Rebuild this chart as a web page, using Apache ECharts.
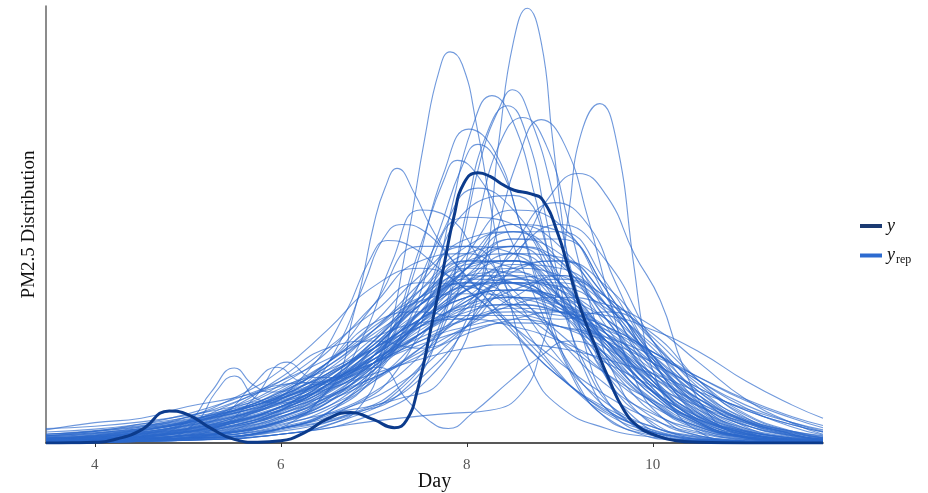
<!DOCTYPE html>
<html>
<head>
<meta charset="utf-8">
<script src="https://cdn.jsdelivr.net/npm/echarts@6/dist/echarts.min.js"></script>
<style>
  html, body { margin: 0; padding: 0; background: #fff; }
  #chart { width: 928px; height: 493px; }
</style>
</head>
<body>
<div id="chart"></div>
<script>
// tick labels on the Day axis
const dayTicks = [4, 6, 8, 10]

// observed density (y)
const obsDays = [3.475, 3.75, 4.0, 4.25, 4.5, 4.8, 5.0, 5.25, 5.5, 5.75, 6.0, 6.25, 6.5, 6.75, 7.0, 7.22, 7.35, 7.47, 7.61, 7.75, 7.86, 7.97, 8.12, 8.25, 8.37, 8.51, 8.69, 8.82, 8.98, 9.09, 9.23, 9.37, 9.52, 9.69, 9.85, 10.0, 10.25, 10.5, 11.0, 11.83]
const obsDensity = [0, 0.0003, 0.001, 0.006, 0.018, 0.044, 0.039, 0.02, 0.005, 0.001, 0.003, 0.014, 0.033, 0.042, 0.032, 0.021, 0.031, 0.073, 0.155, 0.241, 0.31, 0.357, 0.371, 0.366, 0.356, 0.347, 0.342, 0.333, 0.287, 0.241, 0.182, 0.137, 0.09, 0.045, 0.022, 0.012, 0.003, 0.001, 0, 0]

// replicated densities (y_rep) sampled on a common grid
const repDays = [3.475, 4, 4.5, 5, 5.5, 6, 6.5, 7, 7.5, 8, 8.5, 9, 9.5, 10, 10.5, 11, 11.5, 11.83]
const repCurves = [
  [0.004, 0.006, 0.011, 0.02, 0.034, 0.055, 0.09, 0.14, 0.2, 0.25, 0.26, 0.22, 0.15, 0.08, 0.035, 0.013, 0.005, 0.002],
  [0.002, 0.004, 0.008, 0.015, 0.028, 0.05, 0.085, 0.14, 0.21, 0.27, 0.29, 0.25, 0.16, 0.075, 0.028, 0.009, 0.003, 0.001],
  [0.01, 0.014, 0.02, 0.03, 0.044, 0.065, 0.095, 0.13, 0.17, 0.2, 0.21, 0.19, 0.15, 0.1, 0.06, 0.032, 0.016, 0.009],
  [0.001, 0.002, 0.005, 0.011, 0.022, 0.042, 0.075, 0.12, 0.18, 0.24, 0.28, 0.26, 0.19, 0.1, 0.04, 0.013, 0.004, 0.001],
  [0.006, 0.01, 0.017, 0.028, 0.045, 0.07, 0.105, 0.15, 0.19, 0.22, 0.22, 0.19, 0.14, 0.085, 0.045, 0.02, 0.008, 0.004],
  [0.003, 0.005, 0.009, 0.016, 0.027, 0.044, 0.07, 0.11, 0.17, 0.24, 0.3, 0.29, 0.21, 0.11, 0.04, 0.012, 0.003, 0.001],
  [0.012, 0.017, 0.024, 0.033, 0.045, 0.062, 0.085, 0.115, 0.15, 0.18, 0.19, 0.18, 0.15, 0.11, 0.075, 0.045, 0.025, 0.015],
  [0.002, 0.003, 0.006, 0.012, 0.024, 0.045, 0.08, 0.125, 0.18, 0.22, 0.24, 0.23, 0.19, 0.13, 0.07, 0.03, 0.011, 0.005],
  [0.005, 0.008, 0.014, 0.025, 0.042, 0.068, 0.11, 0.165, 0.23, 0.27, 0.26, 0.2, 0.12, 0.06, 0.024, 0.008, 0.003, 0.001],
  [0.001, 0.002, 0.004, 0.008, 0.017, 0.034, 0.064, 0.11, 0.17, 0.24, 0.29, 0.29, 0.22, 0.12, 0.048, 0.015, 0.004, 0.001],
  [0.015, 0.019, 0.026, 0.035, 0.047, 0.064, 0.085, 0.11, 0.14, 0.16, 0.17, 0.16, 0.14, 0.11, 0.075, 0.045, 0.025, 0.015],
  [0.003, 0.005, 0.01, 0.019, 0.034, 0.056, 0.09, 0.14, 0.2, 0.24, 0.23, 0.18, 0.11, 0.055, 0.022, 0.008, 0.003, 0.001],
  [0.004, 0.006, 0.011, 0.019, 0.031, 0.048, 0.072, 0.105, 0.15, 0.19, 0.22, 0.22, 0.18, 0.12, 0.065, 0.028, 0.01, 0.004],
  [0.002, 0.003, 0.006, 0.011, 0.02, 0.036, 0.062, 0.105, 0.165, 0.23, 0.27, 0.25, 0.17, 0.085, 0.032, 0.01, 0.003, 0.001],
  [0.008, 0.011, 0.018, 0.028, 0.043, 0.065, 0.095, 0.13, 0.17, 0.2, 0.21, 0.195, 0.155, 0.105, 0.06, 0.03, 0.013, 0.007],
  [0.001, 0.002, 0.004, 0.007, 0.014, 0.028, 0.055, 0.1, 0.17, 0.26, 0.32, 0.3, 0.2, 0.09, 0.028, 0.007, 0.002, 0],
  [0.006, 0.009, 0.015, 0.026, 0.044, 0.072, 0.11, 0.16, 0.2, 0.22, 0.2, 0.15, 0.095, 0.05, 0.022, 0.009, 0.003, 0.001],
  [0.003, 0.005, 0.008, 0.014, 0.023, 0.037, 0.058, 0.088, 0.13, 0.175, 0.21, 0.225, 0.2, 0.14, 0.075, 0.032, 0.012, 0.005],
  [0.01, 0.013, 0.019, 0.028, 0.041, 0.058, 0.083, 0.12, 0.165, 0.21, 0.23, 0.21, 0.15, 0.085, 0.038, 0.014, 0.005, 0.002],
  [0.002, 0.004, 0.008, 0.015, 0.028, 0.05, 0.085, 0.135, 0.195, 0.245, 0.25, 0.21, 0.14, 0.07, 0.028, 0.009, 0.003, 0.001],
  [0.005, 0.008, 0.013, 0.022, 0.036, 0.056, 0.085, 0.125, 0.165, 0.2, 0.21, 0.2, 0.17, 0.12, 0.07, 0.034, 0.014, 0.006],
  [0.001, 0.002, 0.003, 0.006, 0.012, 0.024, 0.046, 0.085, 0.145, 0.22, 0.28, 0.28, 0.21, 0.11, 0.042, 0.013, 0.004, 0.001],
  [0.007, 0.01, 0.017, 0.028, 0.045, 0.07, 0.105, 0.155, 0.21, 0.25, 0.24, 0.19, 0.12, 0.058, 0.022, 0.007, 0.002, 0.001],
  [0.004, 0.006, 0.01, 0.018, 0.03, 0.049, 0.078, 0.12, 0.17, 0.21, 0.225, 0.21, 0.17, 0.115, 0.065, 0.03, 0.012, 0.005],
  [0.02, 0.023, 0.029, 0.038, 0.05, 0.066, 0.087, 0.11, 0.135, 0.155, 0.165, 0.16, 0.145, 0.12, 0.09, 0.06, 0.036, 0.024],
  [0.002, 0.003, 0.006, 0.011, 0.021, 0.04, 0.072, 0.12, 0.18, 0.23, 0.25, 0.22, 0.15, 0.075, 0.028, 0.008, 0.002, 0.001],
  [0.003, 0.005, 0.009, 0.017, 0.03, 0.05, 0.08, 0.12, 0.16, 0.185, 0.19, 0.18, 0.16, 0.125, 0.085, 0.048, 0.022, 0.011],
  [0.006, 0.009, 0.014, 0.024, 0.04, 0.064, 0.1, 0.155, 0.22, 0.28, 0.29, 0.23, 0.13, 0.055, 0.018, 0.005, 0.001, 0],
  [0.001, 0.002, 0.005, 0.01, 0.019, 0.036, 0.063, 0.1, 0.15, 0.2, 0.24, 0.25, 0.2, 0.12, 0.05, 0.016, 0.004, 0.001],
  [0.009, 0.012, 0.018, 0.027, 0.041, 0.06, 0.086, 0.12, 0.16, 0.19, 0.2, 0.185, 0.145, 0.095, 0.052, 0.024, 0.01, 0.005],
  [0.003, 0.005, 0.009, 0.016, 0.029, 0.05, 0.085, 0.135, 0.19, 0.225, 0.22, 0.18, 0.12, 0.07, 0.036, 0.016, 0.007, 0.003],
  [0.002, 0.004, 0.007, 0.013, 0.023, 0.04, 0.068, 0.11, 0.16, 0.21, 0.245, 0.24, 0.19, 0.115, 0.052, 0.018, 0.005, 0.002],
  [0.005, 0.008, 0.013, 0.023, 0.038, 0.06, 0.092, 0.135, 0.18, 0.215, 0.22, 0.19, 0.135, 0.08, 0.04, 0.017, 0.006, 0.003],
  [0.001, 0.002, 0.004, 0.008, 0.016, 0.032, 0.06, 0.105, 0.17, 0.24, 0.27, 0.245, 0.17, 0.09, 0.036, 0.011, 0.003, 0.001],
  [0.012, 0.016, 0.022, 0.031, 0.044, 0.061, 0.083, 0.11, 0.14, 0.17, 0.185, 0.18, 0.16, 0.125, 0.085, 0.052, 0.028, 0.016],
  [0.01, 0.014, 0.02, 0.029, 0.041, 0.056, 0.074, 0.095, 0.115, 0.13, 0.135, 0.13, 0.115, 0.095, 0.07, 0.047, 0.028, 0.018],
  [0.018, 0.028, 0.034, 0.05, 0.062, 0.078, 0.1, 0.13, 0.16, 0.175, 0.175, 0.16, 0.13, 0.09, 0.055, 0.03, 0.016, 0.01],
  [0.004, 0.007, 0.012, 0.02, 0.032, 0.05, 0.075, 0.11, 0.15, 0.185, 0.2, 0.19, 0.16, 0.11, 0.06, 0.025, 0.009, 0.004],
  [0.002, 0.003, 0.006, 0.012, 0.024, 0.046, 0.08, 0.13, 0.19, 0.23, 0.235, 0.2, 0.14, 0.08, 0.036, 0.013, 0.004, 0.002],
  [0.007, 0.01, 0.015, 0.024, 0.036, 0.053, 0.077, 0.11, 0.15, 0.195, 0.225, 0.23, 0.2, 0.145, 0.085, 0.04, 0.016, 0.007],
  [0.005, 0.008, 0.013, 0.02, 0.03, 0.045, 0.065, 0.09, 0.12, 0.15, 0.17, 0.18, 0.175, 0.155, 0.125, 0.085, 0.052, 0.034],
  [0.004, 0.008, 0.016, 0.03, 0.05, 0.08, 0.125, 0.19, 0.25, 0.26, 0.21, 0.14, 0.08, 0.04, 0.018, 0.007, 0.003, 0.001],
  [0.008, 0.013, 0.022, 0.036, 0.056, 0.085, 0.13, 0.18, 0.22, 0.215, 0.185, 0.14, 0.095, 0.058, 0.032, 0.016, 0.007, 0.004],
  [0.002, 0.004, 0.009, 0.018, 0.035, 0.065, 0.11, 0.165, 0.18, 0.17, 0.2, 0.23, 0.19, 0.11, 0.045, 0.014, 0.004, 0.001],
  [0.001, 0.002, 0.004, 0.008, 0.015, 0.028, 0.05, 0.085, 0.13, 0.185, 0.235, 0.25, 0.215, 0.14, 0.065, 0.022, 0.006, 0.002],
  [0.001, 0.002, 0.003, 0.007, 0.015, 0.03, 0.06, 0.12, 0.22, 0.31, 0.3, 0.2, 0.095, 0.035, 0.01, 0.003, 0.001, 0],
  [0.006, 0.01, 0.018, 0.03, 0.048, 0.075, 0.11, 0.155, 0.195, 0.205, 0.2, 0.18, 0.14, 0.09, 0.05, 0.024, 0.01, 0.005],
  [0.002, 0.004, 0.008, 0.014, 0.025, 0.045, 0.08, 0.13, 0.19, 0.22, 0.19, 0.17, 0.18, 0.15, 0.085, 0.035, 0.012, 0.004],
  [0.003, 0.005, 0.009, 0.016, 0.028, 0.046, 0.074, 0.115, 0.165, 0.22, 0.26, 0.255, 0.2, 0.12, 0.055, 0.02, 0.006, 0.002],
  [0.006, 0.011, 0.02, 0.036, 0.062, 0.1, 0.155, 0.215, 0.24, 0.21, 0.15, 0.09, 0.048, 0.022, 0.009, 0.003, 0.001, 0],
  [0.012, 0.016, 0.023, 0.032, 0.045, 0.062, 0.085, 0.115, 0.145, 0.17, 0.18, 0.175, 0.155, 0.125, 0.09, 0.058, 0.034, 0.021],
  [0.003, 0.006, 0.012, 0.025, 0.05, 0.09, 0.13, 0.14, 0.13, 0.16, 0.21, 0.2, 0.14, 0.07, 0.026, 0.008, 0.002, 0.001],
  [0.001, 0.002, 0.004, 0.008, 0.016, 0.03, 0.056, 0.1, 0.17, 0.25, 0.3, 0.27, 0.18, 0.085, 0.03, 0.008, 0.002, 0],
  [0.003, 0.005, 0.009, 0.015, 0.025, 0.04, 0.062, 0.09, 0.125, 0.16, 0.19, 0.2, 0.19, 0.16, 0.11, 0.06, 0.027, 0.012],
  [0.002, 0.004, 0.008, 0.016, 0.032, 0.06, 0.11, 0.19, 0.27, 0.27, 0.2, 0.115, 0.055, 0.022, 0.008, 0.002, 0.001, 0],
  [0.004, 0.007, 0.012, 0.021, 0.036, 0.06, 0.095, 0.145, 0.2, 0.23, 0.22, 0.185, 0.14, 0.095, 0.055, 0.027, 0.011, 0.005],
  [0.006, 0.009, 0.015, 0.024, 0.037, 0.055, 0.08, 0.115, 0.155, 0.195, 0.22, 0.215, 0.185, 0.135, 0.08, 0.038, 0.015, 0.007],
  [0, 0.001, 0.002, 0.004, 0.009, 0.02, 0.042, 0.09, 0.19, 0.32, 0.34, 0.22, 0.09, 0.028, 0.007, 0.002, 0, 0],
  [0.01, 0.016, 0.026, 0.04, 0.06, 0.085, 0.115, 0.145, 0.165, 0.17, 0.16, 0.14, 0.11, 0.078, 0.05, 0.028, 0.014, 0.008],
  [0.001, 0.001, 0.003, 0.006, 0.012, 0.022, 0.04, 0.07, 0.12, 0.19, 0.26, 0.3, 0.25, 0.14, 0.055, 0.016, 0.004, 0.001],
  [0.003, 0.006, 0.012, 0.028, 0.055, 0.08, 0.085, 0.11, 0.18, 0.25, 0.25, 0.19, 0.115, 0.055, 0.02, 0.006, 0.002, 0]
]

// replicated densities with sharper peaks or bumps, as [day, density] pairs
const peakCurves = [
  [[3.475, 0.002], [4.5, 0.004], [5.5, 0.014], [6.5, 0.04], [7.25, 0.06], [7.75, 0.09], [8.15, 0.22], [8.35, 0.42], [8.5, 0.55], [8.65, 0.597], [8.8, 0.55], [8.92, 0.42], [9.1, 0.24], [9.3, 0.12], [9.5, 0.06], [9.75, 0.028], [10, 0.012], [10.5, 0.003], [11, 0.001], [11.83, 0]],
  [[3.475, 0.001], [5, 0.004], [6, 0.012], [6.5, 0.025], [6.85, 0.05], [7.1, 0.12], [7.35, 0.27], [7.55, 0.42], [7.7, 0.51], [7.82, 0.537], [7.95, 0.52], [8.1, 0.44], [8.25, 0.33], [8.45, 0.2], [8.7, 0.1], [9, 0.05], [9.5, 0.02], [10, 0.008], [10.5, 0.003], [11.83, 0]],
  [[3.475, 0.001], [5, 0.004], [6, 0.012], [7, 0.03], [7.75, 0.04], [8.25, 0.045], [8.6, 0.07], [8.8, 0.13], [9.0, 0.23], [9.1, 0.32], [9.23, 0.425], [9.43, 0.466], [9.6, 0.42], [9.8, 0.24], [9.9, 0.15], [10, 0.1], [10.2, 0.05], [10.5, 0.015], [10.8, 0.004], [11.83, 0]],
  [[3.475, 0.002], [5, 0.006], [6, 0.02], [6.75, 0.05], [7.25, 0.08], [7.75, 0.13], [8.25, 0.2], [8.6, 0.27], [8.9, 0.34], [9.2, 0.37], [9.5, 0.34], [9.8, 0.26], [10.08, 0.196], [10.33, 0.104], [10.6, 0.04], [10.9, 0.012], [11.3, 0.003], [11.83, 0]],
  [[3.475, 0.001], [5, 0.004], [5.75, 0.012], [6.2, 0.035], [6.45, 0.065], [6.65, 0.1], [6.75, 0.16], [6.87, 0.22], [7.0, 0.3], [7.12, 0.35], [7.25, 0.377], [7.44, 0.342], [7.6, 0.3], [7.85, 0.25], [8.2, 0.2], [8.5, 0.16], [8.8, 0.12], [9.1, 0.08], [9.5, 0.04], [10, 0.015], [10.5, 0.005], [11.83, 0]],
  [[3.475, 0.002], [5, 0.006], [6, 0.02], [6.75, 0.05], [7.25, 0.1], [7.6, 0.2], [7.85, 0.33], [8.05, 0.43], [8.27, 0.477], [8.5, 0.44], [8.75, 0.33], [9.0, 0.2], [9.3, 0.1], [9.6, 0.045], [10, 0.015], [10.5, 0.004], [11.83, 0]],
  [[3.475, 0.001], [5, 0.004], [6, 0.012], [6.75, 0.035], [7.25, 0.07], [7.6, 0.13], [7.9, 0.25], [8.15, 0.39], [8.35, 0.46], [8.49, 0.485], [8.7, 0.44], [8.95, 0.33], [9.2, 0.2], [9.5, 0.09], [9.8, 0.035], [10.2, 0.01], [10.75, 0.002], [11.83, 0]],
  [[3.475, 0.003], [5, 0.008], [6, 0.02], [6.75, 0.04], [7.3, 0.07], [7.7, 0.15], [8.0, 0.32], [8.2, 0.42], [8.44, 0.463], [8.65, 0.42], [8.85, 0.31], [9.05, 0.19], [9.3, 0.09], [9.6, 0.035], [10, 0.012], [10.5, 0.003], [11.83, 0]],
  [[3.475, 0.002], [5, 0.006], [6, 0.02], [6.6, 0.05], [7.1, 0.12], [7.45, 0.24], [7.75, 0.37], [8.02, 0.431], [8.3, 0.4], [8.55, 0.31], [8.8, 0.2], [9.1, 0.1], [9.4, 0.045], [9.8, 0.015], [10.3, 0.004], [11.83, 0]],
  [[3.475, 0.002], [5, 0.006], [6, 0.016], [6.75, 0.04], [7.3, 0.08], [7.75, 0.16], [8.1, 0.3], [8.35, 0.41], [8.6, 0.447], [8.85, 0.41], [9.1, 0.3], [9.35, 0.18], [9.6, 0.09], [9.9, 0.035], [10.3, 0.01], [10.8, 0.002], [11.83, 0]],
  [[3.475, 0.001], [5, 0.004], [6, 0.012], [7, 0.04], [7.6, 0.09], [8.0, 0.17], [8.3, 0.28], [8.55, 0.39], [8.8, 0.444], [9.05, 0.41], [9.3, 0.31], [9.55, 0.19], [9.8, 0.09], [10.1, 0.035], [10.5, 0.01], [11, 0.002], [11.83, 0]],
  [[3.475, 0.004], [5, 0.01], [6, 0.03], [6.75, 0.07], [7.3, 0.15], [7.7, 0.29], [7.95, 0.38], [8.12, 0.41], [8.35, 0.38], [8.6, 0.29], [8.9, 0.17], [9.2, 0.08], [9.5, 0.035], [10, 0.01], [10.5, 0.003], [11.83, 0]],
  [[3.475, 0.002], [5, 0.01], [5.75, 0.03], [6.25, 0.07], [6.6, 0.13], [6.9, 0.22], [7.1, 0.28], [7.3, 0.3], [7.55, 0.29], [7.85, 0.25], [8.2, 0.2], [8.6, 0.14], [9, 0.09], [9.5, 0.045], [10, 0.018], [10.5, 0.006], [11, 0.002], [11.83, 0]],
  [[3.475, 0.004], [5, 0.015], [5.75, 0.045], [6.3, 0.1], [6.7, 0.18], [6.95, 0.25], [7.15, 0.278], [7.4, 0.27], [7.7, 0.24], [8.1, 0.2], [8.5, 0.16], [9, 0.11], [9.5, 0.065], [10, 0.032], [10.5, 0.013], [11, 0.005], [11.83, 0.001]],
  [[3.475, 0.001], [5, 0.006], [6, 0.03], [6.5, 0.07], [6.9, 0.15], [7.2, 0.25], [7.5, 0.32], [7.8, 0.31], [8.1, 0.26], [8.5, 0.18], [8.9, 0.11], [9.3, 0.06], [9.8, 0.025], [10.3, 0.008], [11, 0.002], [11.83, 0]],
  [[3.475, 0.001], [5, 0.005], [6, 0.02], [6.6, 0.05], [7.1, 0.13], [7.5, 0.27], [7.75, 0.36], [7.9, 0.388], [8.1, 0.37], [8.4, 0.3], [8.7, 0.21], [9.0, 0.13], [9.4, 0.06], [9.8, 0.025], [10.3, 0.008], [11, 0.002], [11.83, 0]],
  [[3.475, 0.003], [5, 0.01], [6, 0.03], [6.75, 0.08], [7.3, 0.17], [7.7, 0.28], [8.12, 0.35], [8.5, 0.32], [8.9, 0.24], [9.3, 0.15], [9.7, 0.08], [10.1, 0.035], [10.6, 0.012], [11.2, 0.003], [11.83, 0.001]],
  [[3.475, 0.002], [5, 0.006], [6, 0.018], [7, 0.05], [7.6, 0.1], [8.1, 0.18], [8.5, 0.27], [8.95, 0.33], [9.3, 0.3], [9.6, 0.22], [9.9, 0.14], [10.3, 0.06], [10.7, 0.02], [11.2, 0.005], [11.83, 0.001]],
  [[3.475, 0.003], [4.5, 0.008], [5.0, 0.03], [5.25, 0.07], [5.5, 0.103], [5.7, 0.08], [5.9, 0.07], [6.25, 0.08], [6.75, 0.11], [7.25, 0.15], [7.75, 0.19], [8.25, 0.22], [8.75, 0.21], [9.25, 0.16], [9.75, 0.1], [10.25, 0.05], [10.75, 0.02], [11.25, 0.008], [11.83, 0.003]],
  [[3.475, 0.002], [4.75, 0.008], [5.1, 0.03], [5.3, 0.07], [5.5, 0.092], [5.75, 0.06], [6.0, 0.055], [6.5, 0.08], [7.0, 0.13], [7.5, 0.2], [8.0, 0.26], [8.5, 0.27], [9.0, 0.22], [9.5, 0.14], [10.0, 0.07], [10.5, 0.03], [11, 0.011], [11.5, 0.004], [11.83, 0.002]],
  [[3.475, 0.004], [4.5, 0.01], [5.0, 0.02], [5.4, 0.04], [5.7, 0.08], [5.96, 0.104], [6.2, 0.085], [6.45, 0.08], [6.8, 0.1], [7.25, 0.15], [7.75, 0.2], [8.25, 0.23], [8.75, 0.22], [9.25, 0.17], [9.75, 0.1], [10.25, 0.05], [10.75, 0.02], [11.25, 0.008], [11.83, 0.003]],
  [[3.475, 0.002], [4.75, 0.006], [5.3, 0.02], [5.7, 0.06], [6.07, 0.111], [6.35, 0.09], [6.6, 0.09], [7.0, 0.13], [7.5, 0.19], [8.0, 0.24], [8.5, 0.25], [9.0, 0.2], [9.5, 0.13], [10, 0.065], [10.5, 0.026], [11, 0.009], [11.5, 0.003], [11.83, 0.001]],
  [[3.475, 0.003], [5, 0.01], [5.75, 0.025], [6.25, 0.05], [6.75, 0.09], [7.05, 0.104], [7.35, 0.06], [7.6, 0.03], [7.8, 0.02], [8.05, 0.04], [8.47, 0.086], [8.8, 0.12], [9.1, 0.14], [9.4, 0.13], [9.7, 0.1], [10, 0.065], [10.5, 0.025], [11, 0.008], [11.83, 0.002]]
]

const repColor = '#2c68cc'
const obsColor = '#0c3b8c'
const serif = 'Liberation Serif, DejaVu Serif, serif'

function repSeries(points) {
  return {
    name: 'y_rep',
    type: 'line',
    data: points,
    smooth: 0.5,
    symbol: 'none',
    silent: true,
    z: 2,
    color: repColor,
    lineStyle: { width: 1.1, color: repColor, opacity: 0.68 }
  }
}

const series = []
repCurves.forEach(c => series.push(repSeries(repDays.map((d, i) => [d, c[i]]))))
peakCurves.forEach(c => series.push(repSeries(c)))
series.push({
  name: 'y',
  type: 'line',
  data: obsDays.map((d, i) => [d, obsDensity[i]]),
  smooth: 0.5,
  symbol: 'none',
  silent: true,
  z: 5,
  color: obsColor,
  lineStyle: { width: 3, color: obsColor }
})

const chart = echarts.init(document.getElementById('chart'), null, { renderer: 'canvas' })
chart.setOption({
  animation: false,
  backgroundColor: '#ffffff',
  grid: { left: 46, right: 105, top: 6, bottom: 50, outerBoundsMode: 'none', containLabel: false },
  legend: {
    orient: 'vertical',
    left: 855,
    top: 212,
    icon: 'rect',
    itemWidth: 22,
    itemHeight: 4,
    itemGap: 10,
    selectedMode: false,
    data: [
      { name: 'y', itemStyle: { color: '#1b3a72', opacity: 1 } },
      { name: 'y_rep', itemStyle: { color: '#2c6bd0', opacity: 1 } }
    ],
    formatter: name => (name === 'y' ? '{i|y}' : '{i|y}{s|rep}'),
    textStyle: {
      color: '#111',
      rich: {
        i: { fontFamily: serif, fontStyle: 'italic', fontSize: 18, lineHeight: 18, color: '#111' },
        s: { fontFamily: serif, fontSize: 12, lineHeight: 18, padding: [9, 0, 0, 1], color: '#111' }
      }
    }
  },
  xAxis: {
    type: 'value',
    min: 3.475,
    max: 11.83,
    name: 'Day',
    nameLocation: 'middle',
    nameGap: 29,
    nameMoveOverlap: false,
    nameTextStyle: { fontFamily: serif, fontSize: 20, color: '#111' },
    axisLine: { lineStyle: { color: '#222', width: 1.5 } },
    axisTick: { show: true, length: 4, customValues: dayTicks, lineStyle: { color: '#333' } },
    axisLabel: { customValues: dayTicks, margin: 15, fontFamily: serif, fontSize: 15, color: '#555' },
    splitLine: { show: false }
  },
  yAxis: {
    type: 'value',
    min: 0,
    max: 0.6,
    name: 'PM2.5 Distribution',
    nameLocation: 'middle',
    nameGap: 7,
    nameRotate: 90,
    nameTextStyle: { fontFamily: serif, fontSize: 19, color: '#111' },
    axisLine: { show: true, lineStyle: { color: '#666', width: 1.5 } },
    axisTick: { show: false },
    axisLabel: { show: false },
    splitLine: { show: false }
  },
  series: series
})
</script>
</body>
</html>
